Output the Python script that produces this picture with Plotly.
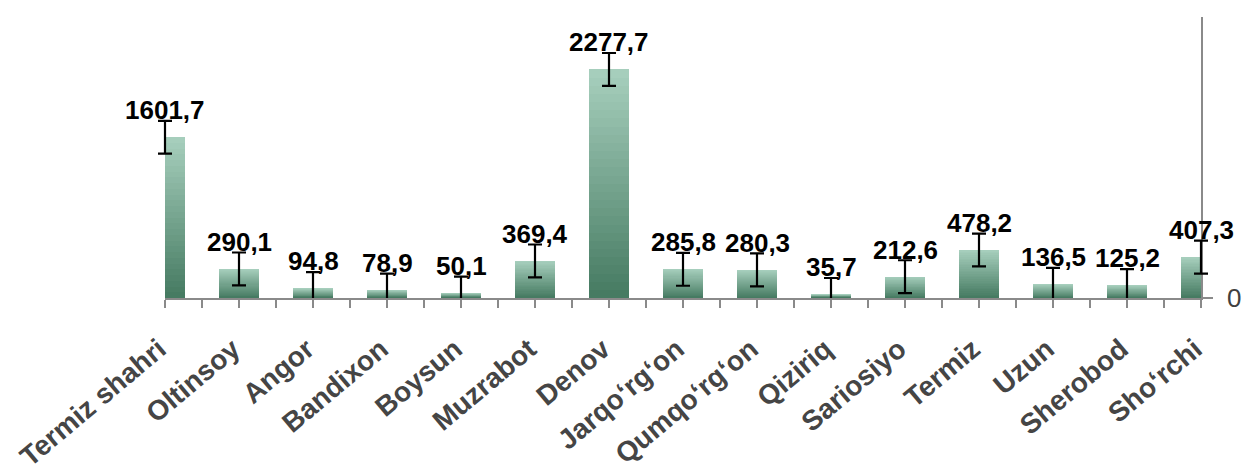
import plotly.graph_objects as go

districts = ["Termiz shahri", "Oltinsoy", "Angor", "Bandixon", "Boysun", "Muzrabot",
             "Denov", "Jarqoʻrgʻon", "Qumqoʻrgʻon", "Qiziriq", "Sariosiyo", "Termiz",
             "Uzun", "Sherobod", "Shoʻrchi"]
values = [1601.7, 290.1, 94.8, 78.9, 50.1, 369.4, 2277.7, 285.8, 280.3, 35.7,
          212.6, 478.2, 136.5, 125.2, 407.3]
value_labels = ["1601,7", "290,1", "94,8", "78,9", "50,1", "369,4", "2277,7", "285,8",
                "280,3", "35,7", "212,6", "478,2", "136,5", "125,2", "407,3"]
error_value = 163.5  # standard-error bars, same size for every bar

xpos = list(range(len(districts)))

top_rgb = (166, 206, 188)
bottom_rgb = (70, 123, 98)
n_layers = 28

# layout geometry (pixels)
W, H = 1242, 474
paper_l, paper_r = 150, 1216          # paper area (margins)
plot_l, plot_r = 165, 1201            # visible bar plot area
x_min, x_max = 0, 14
px_per_unit = (plot_r - plot_l) / (x_max - x_min)
dom = [(plot_l - paper_l) / (paper_r - paper_l), (plot_r - paper_l) / (paper_r - paper_l)]
x2_range = [x_min - (plot_l - paper_l) / px_per_unit, x_max + (paper_r - plot_r) / px_per_unit]

fig = go.Figure()

# vertical gradient inside each bar: overlaid bar layers, lightest (full height) first
for k in range(n_layers):
    t = k / (n_layers - 1)
    c = tuple(round(top_rgb[i] + (bottom_rgb[i] - top_rgb[i]) * t) for i in range(3))
    frac = (n_layers - k) / n_layers
    fig.add_trace(go.Bar(
        x=xpos, y=[v * frac for v in values], width=0.54,
        marker=dict(color="rgb(%d,%d,%d)" % c, line=dict(width=0)),
        showlegend=False, hoverinfo="skip"))

# error bars on a wider (invisible) x axis with the same scale, so caps at the edges are not clipped
fig.add_trace(go.Scatter(
    x=xpos, y=values, mode="markers", xaxis="x2", yaxis="y",
    marker=dict(size=1, opacity=0),
    error_y=dict(type="constant", value=error_value, color="black", thickness=2.2, width=7),
    cliponaxis=False, showlegend=False, hoverinfo="skip"))

for xi, v, lab in zip(xpos, values, value_labels):
    fig.add_annotation(x=xi, y=v, text=lab, showarrow=False, yanchor="middle",
                       yshift=27,
                       font=dict(family="Liberation Sans, Arial", size=26, color="black",
                                 weight="bold"))

axis_gray = "#8a8a8a"
fig.update_layout(
    width=W, height=H,
    margin=dict(l=paper_l, r=W - paper_r, t=17, b=176, pad=0, autoexpand=False),
    paper_bgcolor="white", plot_bgcolor="rgba(0,0,0,0)",
    barmode="overlay", bargap=0,
    xaxis=dict(domain=dom, range=[x_min, x_max], tickmode="array", tickvals=xpos,
               ticktext=[d + "\u00a0" for d in districts],
               tickangle=-40, ticks="outside", ticklen=8, tickwidth=1.5, tickcolor=axis_gray,
               minor=dict(tickmode="array", tickvals=[i + 0.5 for i in xpos[:-1]],
                          ticks="outside", ticklen=8, tickwidth=1.5, tickcolor=axis_gray,
                          showgrid=False),
               showline=True, linecolor=axis_gray, linewidth=1.5, automargin=False,
               showgrid=False, zeroline=False, ticklabelstandoff=9,
               ticklabeloverflow="allow",
               tickfont=dict(family="Liberation Sans, Arial", size=28, color="#454545",
                             weight="bold")),
    xaxis2=dict(domain=[0, 1], range=x2_range, visible=False, anchor="y",
                showgrid=False, zeroline=False),
    yaxis=dict(range=[0, 2800], side="right", anchor="x", tickmode="array", tickvals=[0],
               ticktext=["0"], ticks="outside", ticklen=10, tickwidth=1.5,
               tickcolor=axis_gray, showline=True, linecolor=axis_gray, linewidth=1.5,
               showgrid=False, zeroline=False, ticklabelstandoff=9, automargin=False,
               ticklabeloverflow="allow",
               tickfont=dict(family="Liberation Sans, Arial", size=26, color="#404040")),
)

fig.write_html("out.html", config={"displayModeBar": False},
               post_script="document.body.style.margin='0';document.body.style.padding='0';")
